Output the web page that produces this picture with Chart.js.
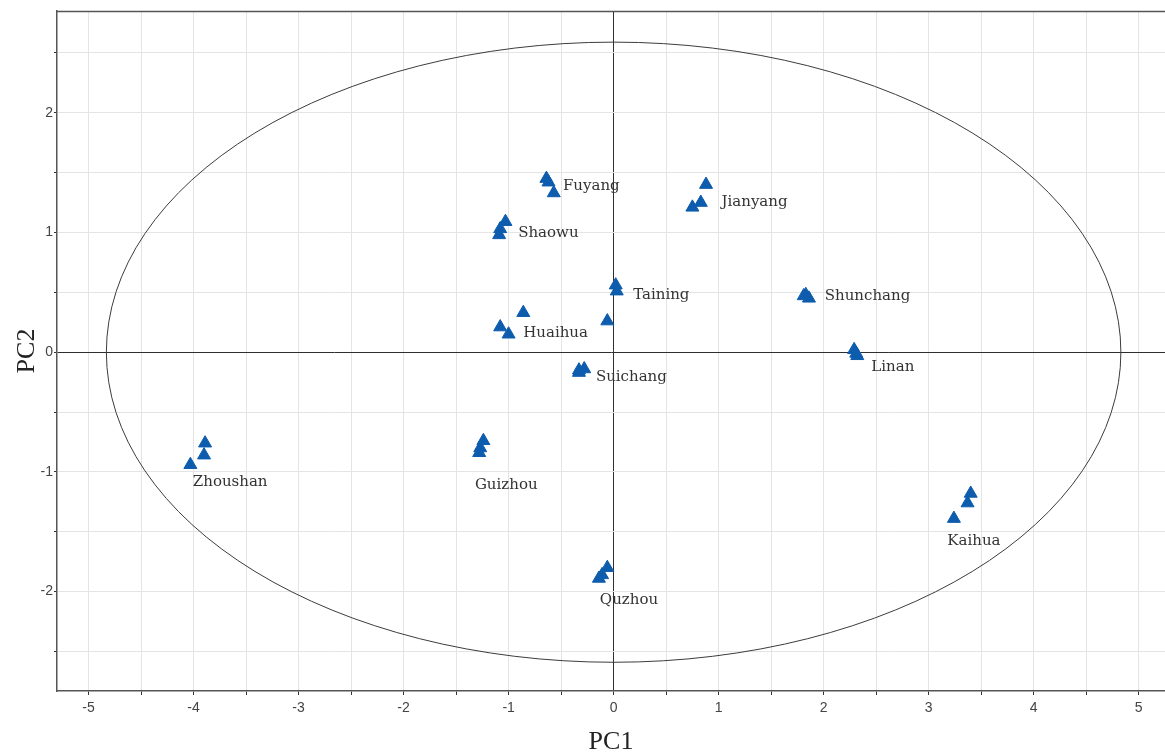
<!DOCTYPE html>
<html>
<head>
<meta charset="utf-8">
<script src="https://cdn.jsdelivr.net/npm/chart.js@4.4.1/dist/chart.umd.min.js"></script>
<style>
  html, body { margin: 0; padding: 0; background: #ffffff; }
  #wrap { width: 1165px; height: 755px; position: relative; }
</style>
</head>
<body>
<div id="wrap"><canvas id="c"></canvas></div>
<script>
// ---- data (PCA scores) ----
const sampleGroup = [
  'Fuyang','Fuyang','Fuyang',
  'Jianyang','Jianyang','Jianyang',
  'Shaowu','Shaowu','Shaowu',
  'Taining','Taining','Taining',
  'Shunchang','Shunchang','Shunchang',
  'Huaihua','Huaihua','Huaihua',
  'Linan','Linan','Linan',
  'Suichang','Suichang','Suichang',
  'Zhoushan','Zhoushan','Zhoushan',
  'Guizhou','Guizhou','Guizhou',
  'Kaihua','Kaihua','Kaihua',
  'Quzhou','Quzhou','Quzhou'
];
const pc1Scores = [
  -0.64, -0.62, -0.57,
   0.88,  0.83,  0.75,
  -1.03, -1.08, -1.09,
   0.02,  0.03, -0.06,
   1.83,  1.86,  1.81,
  -0.86, -1.08, -1.00,
   2.29,  2.31,  2.32,
  -0.33, -0.28, -0.33,
  -3.89, -3.90, -4.03,
  -1.24, -1.27, -1.28,
   3.40,  3.37,  3.24,
  -0.06, -0.11, -0.14
];
const pc2Scores = [
   1.45,  1.42,  1.33,
   1.40,  1.25,  1.21,
   1.09,  1.03,  0.98,
   0.56,  0.51,  0.26,
   0.48,  0.45,  0.47,
   0.33,  0.21,  0.15,
   0.02, -0.01, -0.03,
  -0.15, -0.14, -0.17,
  -0.76, -0.86, -0.94,
  -0.74, -0.80, -0.84,
  -1.18, -1.26, -1.39,
  -1.80, -1.86, -1.89
];
const groupNames = ['Fuyang','Jianyang','Shaowu','Taining','Shunchang','Huaihua','Linan','Suichang','Zhoushan','Guizhou','Kaihua','Quzhou'];
const xTickValues = [-5, -4, -3, -2, -1, 0, 1, 2, 3, 4, 5];
const yTickValues = [-2, -1, 0, 1, 2];
const ellipseRadii = [4.83, 2.59]; // Hotelling T2 ellipse semi-axes (PC1, PC2)

// ---- build points ----
const points = pc1Scores.map((x, i) => ({ x: x, y: pc2Scores[i], group: sampleGroup[i] }));

// label anchors (data units, left-middle of text)
const labelAnchors = {
  Fuyang:   [-0.483,  1.387],
  Jianyang: [ 1.027,  1.256],
  Shaowu:   [-0.909,  0.992],
  Taining:  [ 0.186,  0.476],
  Shunchang:[ 2.010,  0.468],
  Huaihua:  [-0.861,  0.156],
  Linan:    [ 2.454, -0.128],
  Suichang: [-0.169, -0.206],
  Zhoushan: [-4.007, -1.084],
  Guizhou:  [-1.321, -1.111],
  Kaihua:   [ 3.177, -1.579],
  Quzhou:   [-0.131, -2.072]
};

function halfSteps(scale) {
  const out = [];
  const start = Math.ceil(scale.min * 2) / 2;
  for (let v = start; v <= scale.max + 1e-9; v += 0.5) {
    out.push({ value: Math.round(v * 2) / 2 });
  }
  scale.ticks = out;
}
function tickLabel(tickValues) {
  return function (value) {
    return tickValues.indexOf(value) >= 0 ? String(value) : '';
  };
}
function gridColor(ctx) {
  return (ctx.tick && ctx.tick.value === 0) ? '#2e2e2e' : '#e4e4e4';
}

const framePlugin = {
  id: 'frameAndEllipse',
  beforeDatasetsDraw(chart) {
    const { ctx, chartArea, scales } = chart;
    const xs = scales.x, ys = scales.y;
    ctx.save();
    // ellipse
    const cx = xs.getPixelForValue(0), cy = ys.getPixelForValue(0);
    const rx = Math.abs(xs.getPixelForValue(ellipseRadii[0]) - cx);
    const ry = Math.abs(ys.getPixelForValue(ellipseRadii[1]) - cy);
    ctx.beginPath();
    ctx.ellipse(cx, cy, rx, ry, 0, 0, Math.PI * 2);
    ctx.strokeStyle = '#3c3c3c';
    ctx.lineWidth = 1;
    ctx.stroke();
    // top frame line
    ctx.beginPath();
    ctx.moveTo(chartArea.left, chartArea.top + 0.5);
    ctx.lineTo(chartArea.right, chartArea.top + 0.5);
    ctx.strokeStyle = '#555555';
    ctx.lineWidth = 1.5;
    ctx.stroke();
    ctx.restore();
  },
  afterDatasetsDraw(chart) {
    const { ctx, scales } = chart;
    ctx.save();
    ctx.font = '15px "DejaVu Serif"';
    ctx.fillStyle = '#333333';
    ctx.textAlign = 'left';
    ctx.textBaseline = 'middle';
    groupNames.forEach(name => {
      const a = labelAnchors[name];
      ctx.fillText(name, scales.x.getPixelForValue(a[0]), scales.y.getPixelForValue(a[1]));
    });
    ctx.restore();
  }
};

new Chart(document.getElementById('c'), {
  type: 'scatter',
  data: {
    datasets: [{
      label: 'Samples',
      data: points,
      pointStyle: 'triangle',
      pointRadius: 7.5,
      pointHoverRadius: 7.5,
      backgroundColor: '#0d5cad',
      borderColor: '#0d5cad',
      borderWidth: 1
    }]
  },
  options: {
    responsive: true,
    maintainAspectRatio: false,
    animation: false,
    devicePixelRatio: 1,
    layout: { autoPadding: false, padding: { top: 11, right: 0, bottom: 0, left: 0 } },
    plugins: {
      legend: { display: false },
      tooltip: { enabled: false },
      title: { display: false }
    },
    scales: {
      x: {
        type: 'linear',
        min: -5.3,
        max: 5.25,
        afterBuildTicks: halfSteps,
        afterFit(s) { s.height = 64; s.paddingLeft = 0; s.paddingRight = 0; },
        ticks: {
          callback: tickLabel(xTickValues),
          autoSkip: false,
          maxRotation: 0,
          padding: 5,
          color: '#444444',
          font: { family: '"Liberation Sans"', size: 14 }
        },
        grid: {
          color: gridColor,
          lineWidth: 1,
          drawTicks: true,
          tickLength: 4,
          tickColor: '#333333'
        },
        border: { display: true, color: '#555555', width: 1.5 },
        title: {
          display: true,
          text: 'PC1',
          color: '#222222',
          font: { family: '"Liberation Serif"', size: 26, lineHeight: 1 },
          padding: { top: 0, bottom: 0 }
        }
      },
      y: {
        type: 'linear',
        min: -2.83,
        max: 2.85,
        afterBuildTicks: halfSteps,
        afterFit(s) { s.width = 57; s.paddingTop = 0; s.paddingBottom = 0; },
        ticks: {
          callback: tickLabel(yTickValues),
          autoSkip: false,
          padding: 1,
          color: '#444444',
          font: { family: '"Liberation Sans"', size: 14 }
        },
        grid: {
          color: gridColor,
          lineWidth: 1,
          drawTicks: true,
          tickLength: 3,
          tickColor: '#333333'
        },
        border: { display: true, color: '#555555', width: 1.5 },
        title: {
          display: true,
          text: 'PC2',
          color: '#222222',
          font: { family: '"Liberation Serif"', size: 26, lineHeight: 1 },
          padding: { top: 14, bottom: 0 }
        }
      }
    }
  },
  plugins: [framePlugin]
});
</script>
</body>
</html>
